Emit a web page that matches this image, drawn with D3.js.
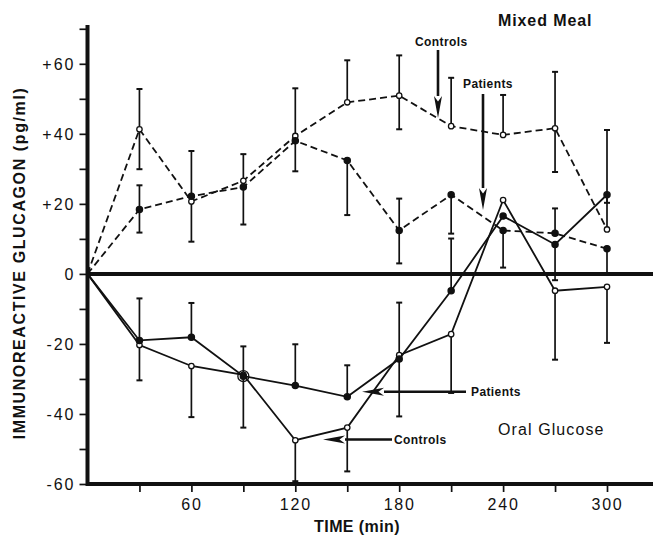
<!DOCTYPE html>
<html>
<head>
<meta charset="utf-8">
<script src="https://cdn.jsdelivr.net/npm/d3@7"></script>
<style>
  body { margin: 0; background: #fff; }
  svg { display: block; }
  text { font-family: "Liberation Sans", Arial, sans-serif; fill: #111; }
</style>
</head>
<body>
<div id="chart"></div>
<script>
// sampling times (min)
var times = [0, 30, 60, 90, 120, 150, 180, 210, 240, 270, 300];

// Mixed meal (dashed)
var mealControls     = [0, 41.3, 20.7, 26.6, 39.4, 49.0, 50.9, 42.2, 39.7, 41.6, 12.7];
var mealControlsUp   = [0, 11.5, 14.4, 7.6, 13.6, 12.0, 11.5, 13.8, 11.4, 16.1, 28.4];
var mealControlsDown = [0, 11.4, 11.5, 0, 0, 0, 9.6, 0, 0, 12.5, 0];
var mealPatients     = [0, 18.4, 22.2, 24.8, 38.0, 32.4, 12.4, 22.6, 12.4, 11.6, 7.2];
var mealPatientsUp   = [0, 6.9, 0, 0, 0, 0, 9.1, 0, 0, 7.1, 0];
var mealPatientsDown = [0, 6.6, 0, 10.7, 8.7, 15.6, 9.4, 11.1, 10.6, 0, 7.2];

// Oral glucose (solid)
var glucoseControls     = [0, -20.3, -26.3, -28.8, -47.5, -43.9, -23.2, -17.2, 21.1, -4.8, -3.7];
var glucoseControlsUp   = [0, 0, 0, 0, 0, 0, 15.0, 0, 0, 0, 0];
var glucoseControlsDown = [0, 10.1, 14.6, 15.1, 11.7, 12.5, 0, 16.8, 0, 19.7, 16.0];
var glucosePatients     = [0, -19.0, -18.1, -29.2, -31.9, -35.1, -24.3, -4.8, 16.5, 8.4, 22.6];
var glucosePatientsUp   = [0, 12.0, 9.8, 8.5, 11.8, 9.0, 0, 14.9, 0, 0, 0];
var glucosePatientsDown = [0, 0, 0, 0, 0, 0, 16.4, 0, 0, 10.2, 2.3];

var yTicks = [-60, -50, -40, -30, -20, -10, 0, 10, 20, 30, 40, 50, 60, 70];
var xTicks = [30, 60, 90, 120, 150, 180, 210, 240, 270, 300];

var width = 653, height = 539;

var svg = d3.select('#chart').append('svg')
  .attr('width', width)
  .attr('height', height);

var x = d3.scaleLinear().domain([0, 300]).range([87.5, 607]);
var y = d3.scaleLinear().domain([-60, 60]).range([484, 63.8]);

// axes
var yAxis = d3.axisLeft(y)
  .tickValues(yTicks)
  .tickSize(8)
  .tickPadding(4)
  .tickFormat(function (d) {
    if (d % 20 !== 0 || d > 60) return '';
    return d > 0 ? '+' + d : '' + d;
  });

var gy = svg.append('g')
  .attr('transform', 'translate(' + x(0) + ',0)')
  .call(yAxis);
gy.select('.domain').remove();
gy.selectAll('.tick line').attr('stroke', '#111').attr('stroke-width', 1.7);
gy.selectAll('.tick text')
  .style('font-size', '16px')
  .style('letter-spacing', '2px')
  .attr('dy', '0.36em');

var xAxis = d3.axisBottom(x)
  .tickValues(xTicks)
  .tickSize(8)
  .tickPadding(7)
  .tickFormat(function (d) { return d % 60 === 0 ? d : ''; });

var gx = svg.append('g')
  .attr('transform', 'translate(0,' + y(-60) + ')')
  .call(xAxis);
gx.select('.domain').remove();
gx.selectAll('.tick line').attr('stroke', '#111').attr('stroke-width', 1.7);
gx.selectAll('.tick text')
  .style('font-size', '16px')
  .style('letter-spacing', '1.8px');

// thick frame lines: y axis, bottom axis, zero line
svg.append('line')
  .attr('x1', x(0)).attr('x2', x(0))
  .attr('y1', y(-60) + 2).attr('y2', 25)
  .attr('stroke', '#111').attr('stroke-width', 4);
svg.append('line')
  .attr('x1', x(0)).attr('x2', width)
  .attr('y1', y(-60)).attr('y2', y(-60))
  .attr('stroke', '#111').attr('stroke-width', 4);
svg.append('line')
  .attr('x1', x(0)).attr('x2', width)
  .attr('y1', y(0)).attr('y2', y(0))
  .attr('stroke', '#111').attr('stroke-width', 4);

// axis titles
svg.append('text')
  .attr('x', 357).attr('y', 532)
  .attr('text-anchor', 'middle')
  .style('font-size', '16px')
  .style('font-weight', 'bold')
  .style('letter-spacing', '0.4px')
  .text('TIME (min)');

svg.append('text')
  .attr('transform', 'translate(25,263) rotate(-90)')
  .attr('text-anchor', 'middle')
  .style('font-size', '16px')
  .style('font-weight', 'bold')
  .style('letter-spacing', '1.6px')
  .text('IMMUNOREACTIVE GLUCAGON (pg/ml)');

function drawErrorBars(vals, ups, downs) {
  var g = svg.append('g').attr('stroke', '#111').attr('stroke-width', 1.7);
  times.forEach(function (t, i) {
    var cx = x(t);
    var top = vals[i] + ups[i];
    var bottom = vals[i] - downs[i];
    if (ups[i] === 0 && downs[i] === 0) return;
    g.append('line')
      .attr('x1', cx).attr('x2', cx)
      .attr('y1', y(top)).attr('y2', y(bottom));
    if (ups[i] > 0) {
      g.append('line').attr('x1', cx - 3).attr('x2', cx + 3)
        .attr('y1', y(top)).attr('y2', y(top)).attr('stroke-width', 2);
    }
    if (downs[i] > 0) {
      g.append('line').attr('x1', cx - 3).attr('x2', cx + 3)
        .attr('y1', y(bottom)).attr('y2', y(bottom)).attr('stroke-width', 2);
    }
  });
}

function drawSeries(vals, dashed, open) {
  var line = d3.line()
    .x(function (d, i) { return x(times[i]); })
    .y(function (d) { return y(d); });

  svg.append('path')
    .datum(vals)
    .attr('d', line)
    .attr('fill', 'none')
    .attr('stroke', '#111')
    .attr('stroke-width', 1.8)
    .attr('stroke-dasharray', dashed ? '7,4' : null);

  svg.append('g')
    .selectAll('circle')
    .data(vals.slice(1))
    .enter()
    .append('circle')
    .attr('cx', function (d, i) { return x(times[i + 1]); })
    .attr('cy', function (d) { return y(d); })
    .attr('r', open ? 2.7 : 3.1)
    .attr('fill', open ? '#fff' : '#111')
    .attr('stroke', '#111')
    .attr('stroke-width', 1.3);
}

drawErrorBars(mealControls, mealControlsUp, mealControlsDown);
drawErrorBars(mealPatients, mealPatientsUp, mealPatientsDown);
drawErrorBars(glucoseControls, glucoseControlsUp, glucoseControlsDown);
drawErrorBars(glucosePatients, glucosePatientsUp, glucosePatientsDown);

drawSeries(mealControls, true, true);
drawSeries(mealPatients, true, false);
drawSeries(glucoseControls, false, true);
drawSeries(glucosePatients, false, false);

// overlapping points at 90 min are ringed
svg.append('circle')
  .attr('cx', x(90)).attr('cy', y(glucosePatients[3]))
  .attr('r', 5.5)
  .attr('fill', 'none')
  .attr('stroke', '#111')
  .attr('stroke-width', 1.3);

// arrows with labels
function arrow(x1, y1, x2, y2) {
  var ang = Math.atan2(y2 - y1, x2 - x1);
  var len = 22, half = 4;
  var bx = x2 - len * Math.cos(ang), by = y2 - len * Math.sin(ang);
  var px = -Math.sin(ang) * half, py = Math.cos(ang) * half;
  svg.append('line')
    .attr('x1', x1).attr('y1', y1).attr('x2', bx).attr('y2', by)
    .attr('stroke', '#111').attr('stroke-width', 2.6);
  svg.append('path')
    .attr('d', 'M' + x2 + ',' + y2 + 'L' + (bx + px) + ',' + (by + py) +
      'L' + (bx + (x2 - bx) * 0.25) + ',' + (by + (y2 - by) * 0.25) +
      'L' + (bx - px) + ',' + (by - py) + 'Z')
    .attr('fill', '#111');
}

function label(txt, lx, ly, size, weight, spacing) {
  svg.append('text')
    .attr('x', lx).attr('y', ly)
    .attr('dy', '0.35em')
    .style('font-size', size + 'px')
    .style('font-weight', weight)
    .style('letter-spacing', spacing + 'px')
    .text(txt);
}

label('Mixed Meal', 498, 20, 16, 'bold', 0.9);
label('Oral Glucose', 498, 429, 16, 'normal', 1.1);

label('Controls', 415, 42, 12, 'bold', 0.4);
arrow(438, 50, 438, 118);
label('Patients', 463, 84, 12, 'bold', 0.4);
arrow(483, 94, 483, 210);

label('Patients', 471, 392, 12, 'bold', 0.4);
arrow(466, 391.7, 362, 391.7);
label('Controls', 394, 440, 12, 'bold', 0.4);
arrow(392, 439.5, 323, 439.5);
</script>
</body>
</html>
